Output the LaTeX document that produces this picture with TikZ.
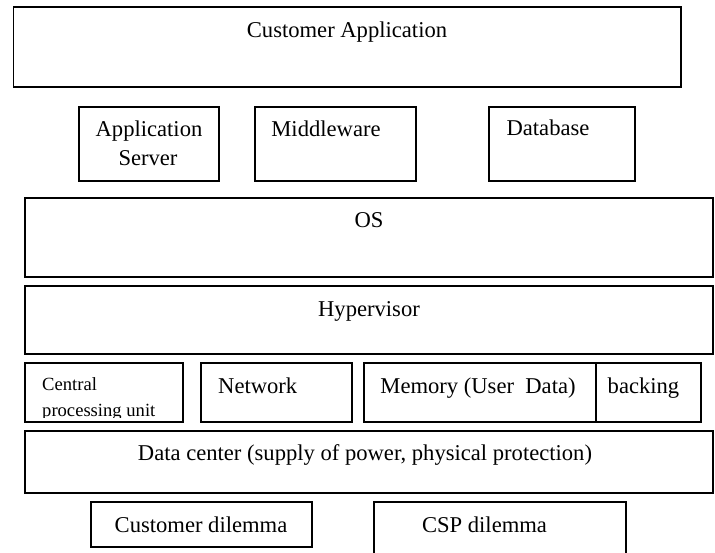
\documentclass[tikz,border=0pt]{standalone}
\usepackage{fontspec}
\setmainfont{Liberation Serif}
\begin{document}
\begin{tikzpicture}[x=1pt,y=-1pt,
  box/.style={draw=black, line width=1.4pt, fill=white, inner sep=0pt},
  lbl/.style={anchor=base, inner sep=0pt, font=\fontsize{22.6}{26}\selectfont},
  small/.style={anchor=base west, inner sep=0pt, font=\fontsize{18.6}{22}\selectfont}]
\useasboundingbox (0,0) rectangle (715,553);
\clip (0,0) rectangle (715,553);
\fill[white] (0,0) rectangle (715,553);

% application layer
\node[box, minimum width=667.5pt, minimum height=80pt] (capp) at (347.25,47) {};
\node[lbl] (capp-t) at (347,38) {Customer Application};

\node[box, minimum width=140pt, minimum height=74pt] (asrv) at (149,144) {};
\node[lbl] (asrv-t1) at (149,137) {Application};
\node[lbl] (asrv-t2) at (148,166) {Server};

\node[box, minimum width=161pt, minimum height=74pt] (mid) at (335.5,144) {};
\node[lbl] (mid-t) at (326,137) {Middleware};

\node[box, minimum width=146pt, minimum height=74pt] (db) at (562,144) {};
\node[lbl] (db-t) at (548,136) {Database};

% system layers
\node[box, minimum width=688pt, minimum height=79pt] (os) at (369,237.5) {};
\node[lbl] (os-t) at (369,228) {OS};

\node[box, minimum width=688pt, minimum height=68pt] (hyp) at (369,320) {};
\node[lbl] (hyp-t) at (369,317) {Hypervisor};

% hardware row
\node[box, minimum width=158pt, minimum height=59pt] (cpu) at (104,392.5) {};
\begin{scope}
  \clip (26,364) rectangle (182,417.5);
  \node[small] (cpu-t1) at (42,390) {Central};
  \node[small] (cpu-t2) at (42,416) {processing unit};
\end{scope}

\node[box, minimum width=151pt, minimum height=59pt] (net) at (276.5,392.5) {};
\node[lbl, anchor=base west] (net-t) at (218,393) {Network};

\node[box, minimum width=232pt, minimum height=59pt] (mem) at (480,392.5) {};
\node[lbl] (mem-t) at (478,393) {Memory (User~ Data)};

\node[box, minimum width=105pt, minimum height=59pt] (back) at (648.5,392.5) {};
\node[lbl] (back-t) at (643.5,393) {backing};

% facility
\node[box, minimum width=688pt, minimum height=62pt] (dc) at (369,462) {};
\node[lbl] (dc-t) at (365,460) {Data center (supply of power, physical protection)};

% dilemmas
\node[box, minimum width=221pt, minimum height=45pt] (cdil) at (201.5,524.5) {};
\node[lbl] (cdil-t) at (201,532) {Customer dilemma};

\node[box, minimum width=252pt, minimum height=68pt] (csp) at (500,536) {};
\node[lbl] (csp-t) at (484.5,532) {CSP dilemma};
\end{tikzpicture}
\end{document}
